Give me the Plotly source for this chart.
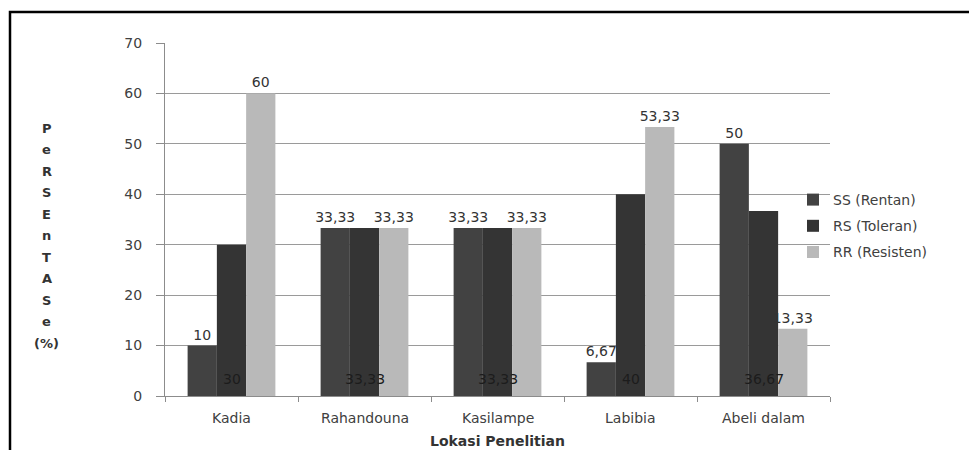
import plotly.graph_objects as go

categories = ["Kadia", "Rahandouna", "Kasilampe", "Labibia", "Abeli dalam"]
ss_values = [10, 33.33, 33.33, 6.67, 50]
rs_values = [30, 33.33, 33.33, 40, 36.67]
rr_values = [60, 33.33, 33.33, 53.33, 13.33]
series_names = ["SS (Rentan)", "RS (Toleran)", "RR (Resisten)"]
y_ticks = [0, 10, 20, 30, 40, 50, 60, 70]
y_title_letters = ["P", "e", "R", "S", "E", "n", "T", "A", "S", "e", "(%)"]
x_title = "Lokasi Penelitian"
bar_base = 0


def fmt(v):
    if float(v).is_integer():
        return str(int(v))
    return f"{v:.2f}".replace(".", ",")


FONT = "DejaVu Sans"
fig = go.Figure()

fig.add_trace(go.Bar(
    x=categories, y=ss_values, name=series_names[0],
    marker=dict(color="#424242", line=dict(width=0)),
    text=[fmt(v) for v in ss_values], textposition="outside",
    textfont=dict(family=FONT, size=14, color="#333333"),
    constraintext="none", cliponaxis=False, textangle=0,
    legendgroup="a",
))
fig.add_trace(go.Bar(
    x=categories, y=rs_values, name=series_names[1],
    marker=dict(color="#343434", line=dict(width=0)),
    textposition="none",
    legendgroup="b",
))
fig.add_trace(go.Bar(
    x=categories, y=rr_values, name=series_names[2],
    marker=dict(color="#b9b9b9", line=dict(width=0)),
    text=[fmt(v) for v in rr_values], textposition="outside",
    textfont=dict(family=FONT, size=14, color="#333333"),
    constraintext="none", cliponaxis=False, textangle=0,
    legendgroup="c",
))

L, R, T, B = 165, 139, 43, 54
W, H = 969, 450
pw, ph = W - L - R, H - T - B

fig.update_layout(
    width=W, height=H,
    margin=dict(l=L, r=R, t=T, b=B, pad=0),
    paper_bgcolor="white", plot_bgcolor="white",
    barmode="group", bargap=0.34, bargroupgap=0,
    showlegend=True,
    legend=dict(
        x=(793 - L) / pw, y=(396 - 184) / ph, xanchor="left", yanchor="top",
        font=dict(family=FONT, size=14, color="#404040"),
        bgcolor="rgba(0,0,0,0)", tracegroupgap=5, traceorder="grouped",
    ),
    xaxis=dict(
        categoryorder="array", categoryarray=categories,
        showline=True, linecolor="#8c8c8c", linewidth=1,
        ticks="outside", tickson="boundaries", ticklen=5, tickcolor="#8c8c8c",
        showticklabels=False,
        showgrid=False, fixedrange=True,
    ),
    yaxis=dict(
        range=[0, 70], tickvals=y_ticks,
        showline=True, linecolor="#8c8c8c", linewidth=1,
        ticks="outside", ticklen=8, tickcolor="#8c8c8c",
        tickfont=dict(family=FONT, size=14, color="#404040"),
        ticklabelstandoff=11,
        showgrid=True, gridcolor="#9a9a9a", gridwidth=1,
        zeroline=False, fixedrange=True,
    ),
)

# RS labels at the base of the middle (RS) bar, drawn above all bars
for c, v in zip(categories, rs_values):
    fig.add_annotation(
        text=fmt(v), xref="x", yref="y", x=c, y=bar_base,
        xanchor="center", yanchor="bottom", yshift=7, showarrow=False,
        font=dict(family=FONT, size=14, color="#1c1c1c"),
    )

# category labels below the axis
for c in categories:
    fig.add_annotation(
        text=c, xref="x", yref="paper", x=c, y=(396 - 418) / ph,
        xanchor="center", yanchor="middle", showarrow=False,
        font=dict(family=FONT, size=14, color="#404040"),
    )

# x-axis title
fig.add_annotation(
    text=f"<b>{x_title}</b>", xref="paper", yref="paper",
    x=0.5, y=(396 - 441) / ph, xanchor="center", yanchor="middle",
    showarrow=False, font=dict(family=FONT, size=14, color="#333333"),
)

# stacked vertical axis title
top_px, step_px = 128, 21.5
for i, letter in enumerate(y_title_letters):
    ypx = top_px + i * step_px
    fig.add_annotation(
        text=f"<b>{letter}</b>", xref="paper", yref="paper",
        x=(47 - L) / pw, y=(396 - ypx) / ph, xanchor="center", yanchor="middle",
        showarrow=False, font=dict(family=FONT, size=13, color="#333333"),
    )

# outer frame (top and left edges visible)
fig.add_shape(
    type="rect", xref="paper", yref="paper",
    x0=(10 - L) / pw, x1=(990 - L) / pw,
    y0=(396 - 470) / ph, y1=(396 - 12) / ph,
    line=dict(color="black", width=2.5), fillcolor="rgba(0,0,0,0)", layer="above",
)

fig.write_html("out.html", config={"displayModeBar": False},
               post_script="document.body.style.margin='0';")
